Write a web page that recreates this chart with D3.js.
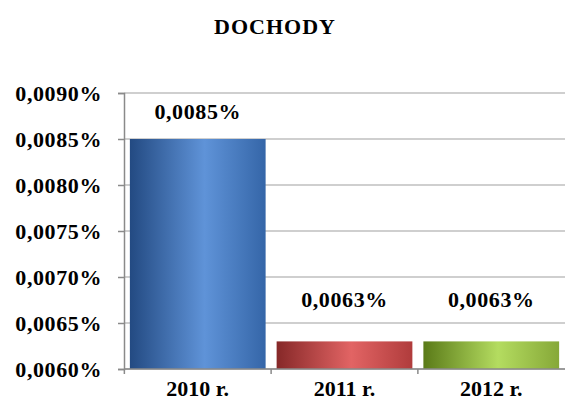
<!DOCTYPE html>
<html>
<head>
<meta charset="utf-8">
<script src="https://cdn.jsdelivr.net/npm/d3@7"></script>
<style>
  body { margin: 0; background: #fff; }
</style>
</head>
<body>
<div class="chart"></div>
<script>
const years = ["2010 r.", "2011 r.", "2012 r."];
const values = [0.0085, 0.0063, 0.0063];
const yTicks = [0.0060, 0.0065, 0.0070, 0.0075, 0.0080, 0.0085, 0.0090];
const title = "DOCHODY";

// cylinder-ish colours: dark edge, light middle, mid edge
const barColors = [
  ["#234a82", "#5f93d8", "#3566a8"],
  ["#862828", "#e26464", "#b03c3c"],
  ["#5a7a18", "#b4dc60", "#86a838"]
];
// small nudges of the value labels above the bar tops
const labelDy = [20, 34, 34];

const FONT = '"Liberation Serif", "DejaVu Serif", "Times New Roman", Times, serif';

const W = 565, H = 408;
const margin = { top: 93, right: 0, bottom: 39, left: 124 };
const width = W - margin.left - margin.right;
const height = H - margin.top - margin.bottom;

const fmt = v => v.toFixed(4).replace('.', ',') + '%';

const svg = d3.select('.chart')
  .append('svg')
  .attr('width', W)
  .attr('height', H)
  .attr('font-family', FONT)
  .attr('font-weight', 'bold');

const defs = svg.append('defs');
barColors.forEach((c, i) => {
  const g = defs.append('linearGradient')
    .attr('id', 'grad' + i)
    .attr('x1', '0%').attr('x2', '100%')
    .attr('y1', '0%').attr('y2', '0%');
  g.append('stop').attr('offset', '0%').attr('stop-color', c[0]);
  g.append('stop').attr('offset', '55%').attr('stop-color', c[1]);
  g.append('stop').attr('offset', '100%').attr('stop-color', c[2]);
});

svg.append('text')
  .attr('x', 275)
  .attr('y', 34)
  .attr('text-anchor', 'middle')
  .style('font-family', FONT)
  .style('font-size', '22px')
  .style('letter-spacing', '1px')
  .text(title);

const chart = svg.append('g')
  .attr('transform', `translate(${margin.left}, ${margin.top})`);

const yScale = d3.scaleLinear()
  .domain([0.0060, 0.0090])
  .range([height, 0]);

const xScale = d3.scaleBand()
  .domain(years)
  .range([0, width])
  .paddingInner(0.075)
  .paddingOuter(0.04);

// gridlines
chart.append('g')
  .selectAll('line')
  .data(yTicks)
  .join('line')
  .attr('x1', 0)
  .attr('x2', width)
  .attr('y1', d => yScale(d))
  .attr('y2', d => yScale(d))
  .attr('stroke', '#a0a0a0')
  .attr('stroke-width', 1.2);

// bars
chart.append('g')
  .selectAll('rect')
  .data(values)
  .join('rect')
  .attr('x', (d, i) => xScale(years[i]))
  .attr('width', xScale.bandwidth())
  .attr('y', d => yScale(d))
  .attr('height', d => height - yScale(d))
  .attr('fill', (d, i) => `url(#grad${i})`);

// value labels
chart.append('g')
  .selectAll('text')
  .data(values)
  .join('text')
  .attr('x', (d, i) => xScale(years[i]) + xScale.bandwidth() / 2)
  .attr('y', (d, i) => yScale(d) - labelDy[i])
  .attr('text-anchor', 'middle')
  .style('font-family', FONT)
  .style('font-size', '22px')
  .style('letter-spacing', '0.6px')
  .text(d => fmt(d));

// y axis
const yAxis = chart.append('g')
  .call(d3.axisLeft(yScale).tickValues(yTicks).tickSize(6).tickPadding(16).tickFormat(fmt));
yAxis.attr('font-family', null).attr('font-size', null);
yAxis.select('.domain').attr('stroke', '#8a8a8a').attr('stroke-width', 1.5);
yAxis.selectAll('.tick line').attr('stroke', '#8a8a8a').attr('stroke-width', 1.5);
yAxis.selectAll('text')
  .style('font-size', '22px')
  .style('letter-spacing', '0.6px')
  .style('font-family', FONT)
  .style('font-weight', 'bold')
  .attr('fill', '#000');

// x axis: ticks between categories
const xAxis = chart.append('g')
  .attr('transform', `translate(0, ${height})`);
xAxis.append('line')
  .attr('x1', 0).attr('x2', width)
  .attr('stroke', '#8a8a8a').attr('stroke-width', 1.5);
const step = xScale.step();
xAxis.selectAll('line.sep')
  .data(years)
  .join('line')
  .attr('class', 'sep')
  .attr('x1', d => xScale(d) - step * xScale.paddingInner() / 2)
  .attr('x2', d => xScale(d) - step * xScale.paddingInner() / 2)
  .attr('y1', 0).attr('y2', 5)
  .attr('stroke', '#8a8a8a').attr('stroke-width', 1.5);
xAxis.selectAll('text')
  .data(years)
  .join('text')
  .attr('x', d => xScale(d) + xScale.bandwidth() / 2)
  .attr('y', 27)
  .attr('text-anchor', 'middle')
  .style('font-family', FONT)
  .style('font-size', '22px')
  .text(d => d);
</script>
</body>
</html>
